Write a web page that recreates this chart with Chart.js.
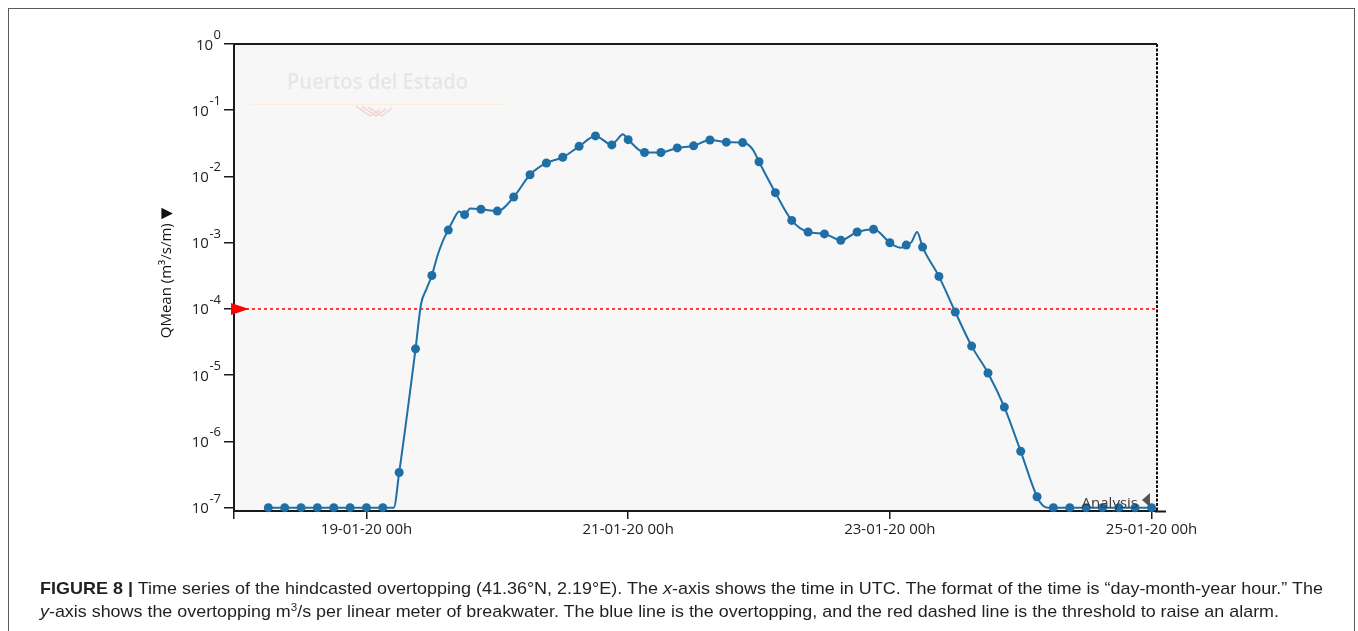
<!DOCTYPE html>
<html>
<head>
<meta charset="utf-8">
<title>QMean overtopping</title>
<script src="https://cdn.jsdelivr.net/npm/chart.js@4.4.1/dist/chart.umd.min.js"></script>
<style>
  html, body { margin: 0; padding: 0; background: #fff; }
  #wrap { position: relative; width: 1358px; height: 631px; overflow: hidden; }
  #frame { position: absolute; left: 8px; top: 8px; width: 1347px; height: 660px;
           border: 1px solid #5a5a5a; box-sizing: border-box; }
  #chart { position: absolute; left: 0; top: 0; }
  .cap { position: absolute; left: 40px; white-space: nowrap; line-height: 20px;
         font-family: "Liberation Sans Narrow", "Liberation Sans", Arial, sans-serif;
         font-size: 17px; color: #231f20; transform-origin: 0 0; }
  .cap b { font-weight: bold; }
  .cap sup { font-size: 11px; line-height: 0; vertical-align: 6px; }
</style>
</head>
<body>
<div id="wrap">
  <div id="frame"></div>
  <canvas id="chart" width="1358" height="631"></canvas>
  <div class="cap" id="cap1" style="top:579px"><b>FIGURE 8 |</b> Time series of the hindcasted overtopping (41.36°N, 2.19°E). The <i>x</i>-axis shows the time in UTC. The format of the time is “day-month-year hour.” The</div>
  <div class="cap" id="cap2" style="top:602px"><i>y</i>-axis shows the overtopping m<sup>3</sup>/s per linear meter of breakwater. The blue line is the overtopping, and the red dashed line is the threshold to raise an alarm.</div>
</div>
<script>
// Hours are counted from 19-01-20 00h (UTC).
// Three-hourly model outputs (drawn with markers)
const markerHours = [-18, -15, -12, -9, -6, -3, 0, 3, 6, 9, 12, 15, 18, 21, 24, 27, 30, 33, 36, 39,
  42, 45, 48, 51, 54, 57, 60, 63, 66, 69, 72, 75, 78, 81, 84, 87, 90, 93, 96, 99,
  102, 105, 108, 111, 114, 117, 120, 123, 126, 129, 132, 135, 138, 141, 144];
const markerValues = [1e-7, 1e-7, 1e-7, 1e-7, 1e-7, 1e-7, 1e-7, 1e-7, 3.4e-7, 2.5e-5,
  3.2e-4, 1.55e-3, 2.65e-3, 3.2e-3, 3.0e-3, 4.9e-3, 1.06e-2, 1.6e-2, 1.95e-2, 2.85e-2,
  4.1e-2, 3.0e-2, 3.6e-2, 2.3e-2, 2.3e-2, 2.7e-2, 2.9e-2, 3.55e-2, 3.3e-2, 3.25e-2,
  1.67e-2, 5.7e-3, 2.17e-3, 1.45e-3, 1.36e-3, 1.09e-3, 1.45e-3, 1.6e-3, 1.0e-3, 9.2e-4,
  8.6e-4, 3.1e-4, 9.0e-5, 2.75e-5, 1.08e-5, 3.3e-6, 7.1e-7, 1.46e-7, 1e-7, 1e-7,
  1e-7, 1e-7, 1e-7, 1e-7, 1e-7];
// Hourly outputs in between that shape the curve
const hourlyHours = [5, 10, 11, 13, 14, 16, 17, 19, 20, 46, 47, 70, 71, 97, 98, 100, 101, 124, 125];
const hourlyValues = [1e-7, 1.18e-4, 2.0e-4, 6.3e-4, 1.06e-3, 2.27e-3, 2.95e-3, 3.3e-3, 3.25e-3,
  3.6e-2, 4.35e-2, 3.03e-2, 2.45e-2, 8.9e-4, 8.4e-4, 1.03e-3, 1.45e-3, 1.09e-7, 1.0e-7];

const alarmThreshold = 1e-4;
const analysisHour = 145;
const startHour = -24.3;

const xTickHours = [startHour, 0, 48, 96, 144];
const xTickLabels = ['', '19-01-20 00h', '21-01-20 00h', '23-01-20 00h', '25-01-20 00h'];
const yTickExponents = [0, -1, -2, -3, -4, -5, -6, -7];
const yMin = Math.pow(10, -7.05);
const yMax = 1;

const markerPoints = markerHours.map((h, i) => ({ x: h, y: markerValues[i] }));
const linePoints = markerPoints
  .concat(hourlyHours.map((h, i) => ({ x: h, y: hourlyValues[i] })))
  .sort((a, b) => a.x - b.x);

const BLUE = '#1f6fa6';
const FONT = '"Open Sans", "DejaVu Sans", sans-serif';

const decor = {
  id: 'decor',
  beforeDraw(chart) {
    const { ctx, chartArea: a } = chart;
    ctx.save();
    ctx.fillStyle = '#f7f7f7';
    ctx.fillRect(a.left, a.top, a.right - a.left, a.bottom - a.top);
    // faint logo in the top-left corner of the plot
    ctx.font = '600 21px ' + FONT;
    const w = ctx.measureText('Puertos del Estado').width;
    ctx.save();
    ctx.translate(287, 89);
    ctx.scale(181 / w, 1);
    ctx.fillStyle = '#e6e6e6';
    ctx.textBaseline = 'alphabetic';
    ctx.fillText('Puertos del Estado', 0, 0);
    ctx.restore();
    ctx.strokeStyle = '#fbeedd';
    ctx.lineWidth = 1;
    ctx.beginPath(); ctx.moveTo(249, 104.5); ctx.lineTo(506, 104.5); ctx.stroke();
    ctx.strokeStyle = '#f6d6d6';
    ctx.lineWidth = 1.6;
    for (let k = 0; k < 3; k++) {
      const ox = 356 + k * 6;
      ctx.beginPath();
      ctx.moveTo(ox, 106 + k * 0.5);
      ctx.lineTo(ox + 14, 116);
      ctx.lineTo(ox + 24, 110 - k);
      ctx.stroke();
    }
    ctx.restore();
  },
  afterDraw(chart) {
    const { ctx, chartArea: a, scales } = chart;
    const ys = scales.y, xs = scales.x;
    ctx.save();
    // top border of the plot and axis extension
    ctx.strokeStyle = '#1a1a1a';
    ctx.lineWidth = 2;
    ctx.beginPath(); ctx.moveTo(a.left - 1, a.top); ctx.lineTo(a.right, a.top); ctx.stroke();
    ctx.beginPath(); ctx.moveTo(a.right - 2, a.bottom + 0.5); ctx.lineTo(a.right + 9, a.bottom + 0.5); ctx.stroke();

    // y tick labels as powers of ten
    ctx.fillStyle = '#222';
    ctx.textBaseline = 'alphabetic';
    yTickExponents.forEach(e => {
      const y = ys.getPixelForValue(Math.pow(10, e));
      const expTxt = String(e);
      ctx.font = '13px ' + FONT;
      const ew = ctx.measureText(expTxt).width;
      ctx.textAlign = 'left';
      ctx.fillText(expTxt, 221 - ew, y - 5);
      ctx.font = '15px ' + FONT;
      ctx.textAlign = 'right';
      ctx.fillText('10', 221 - ew - 0.5, y + 5.5);
    });

    // y axis title
    ctx.save();
    ctx.translate(167, 273);
    ctx.rotate(-Math.PI / 2);
    ctx.font = '15px ' + FONT;
    ctx.textAlign = 'center';
    ctx.textBaseline = 'middle';
    ctx.fillStyle = '#111';
    ctx.fillText('QMean (m³/s/m) ▼', 0, 0);
    ctx.restore();

    // alarm threshold marker
    const ty = ys.getPixelForValue(alarmThreshold);
    ctx.fillStyle = '#ff0000';
    ctx.beginPath();
    ctx.moveTo(a.left - 3, ty - 6);
    ctx.lineTo(a.left + 15, ty);
    ctx.lineTo(a.left - 3, ty + 6);
    ctx.closePath();
    ctx.fill();

    // analysis time line
    const ax = xs.getPixelForValue(analysisHour);
    ctx.strokeStyle = '#111';
    ctx.lineWidth = 2;
    ctx.setLineDash([3, 1.5]);
    ctx.beginPath(); ctx.moveTo(ax, a.top); ctx.lineTo(ax, a.bottom); ctx.stroke();
    ctx.setLineDash([]);
    ctx.fillStyle = '#555';
    ctx.beginPath();
    ctx.moveTo(ax - 15, a.bottom - 11);
    ctx.lineTo(ax - 7, a.bottom - 18);
    ctx.lineTo(ax - 7, a.bottom - 4);
    ctx.closePath();
    ctx.fill();
    ctx.fillStyle = '#3a3a3a';
    ctx.font = '15px ' + FONT;
    ctx.textAlign = 'right';
    ctx.textBaseline = 'alphabetic';
    ctx.fillText('Analysis', ax - 19, a.bottom - 3.5);
    ctx.restore();
  }
};

new Chart(document.getElementById('chart'), {
  type: 'line',
  data: {
    datasets: [
      {
        label: 'QMean (3 h)',
        data: markerPoints,
        showLine: false,
        pointRadius: 4.5,
        pointBackgroundColor: BLUE,
        pointBorderColor: BLUE,
        pointBorderWidth: 0
      },
      {
        label: 'QMean',
        data: linePoints,
        borderColor: BLUE,
        borderWidth: 2,
        pointRadius: 0,
        cubicInterpolationMode: 'monotone',
        fill: false
      },
      {
        label: 'Threshold',
        data: [{ x: startHour, y: alarmThreshold }, { x: analysisHour, y: alarmThreshold }],
        borderColor: '#ff0000',
        borderWidth: 1.5,
        borderDash: [3, 3],
        pointRadius: 0,
        fill: false
      }
    ]
  },
  options: {
    responsive: false,
    devicePixelRatio: 1,
    animation: false,
    clip: false,
    layout: { padding: { left: 0, top: 44, right: 201, bottom: 80 } },
    plugins: { legend: { display: false }, tooltip: { enabled: false } },
    scales: {
      x: {
        type: 'linear',
        min: startHour,
        max: analysisHour,
        afterBuildTicks: s => { s.ticks = xTickHours.map(v => ({ value: v })); },
        afterFit: s => { s.height = 40; },
        ticks: {
          autoSkip: false, maxRotation: 0, padding: 2,
          color: '#222',
          font: { family: FONT, size: 15 },
          callback: (v, i) => xTickLabels[i]
        },
        grid: { drawOnChartArea: false, drawTicks: true, tickLength: 8, color: '#1a1a1a', lineWidth: 1.5 },
        border: { display: true, color: '#1a1a1a', width: 2 }
      },
      y: {
        type: 'logarithmic',
        min: yMin,
        max: yMax,
        afterBuildTicks: s => { s.ticks = yTickExponents.map(e => ({ value: Math.pow(10, e) })); },
        afterFit: s => { s.width = 234; },
        ticks: { callback: () => '' },
        grid: { drawOnChartArea: false, drawTicks: true, tickLength: 10, color: '#1a1a1a', lineWidth: 1.5 },
        border: { display: true, color: '#1a1a1a', width: 2 }
      }
    }
  },
  plugins: [decor]
});

// Fit each caption line to the column width
[['cap1', 1283], ['cap2', 1239]].forEach(([id, target]) => {
  const el = document.getElementById(id);
  const w = el.getBoundingClientRect().width;
  el.style.transform = 'scaleX(' + (target / w) + ')';
});
</script>
</body>
</html>
